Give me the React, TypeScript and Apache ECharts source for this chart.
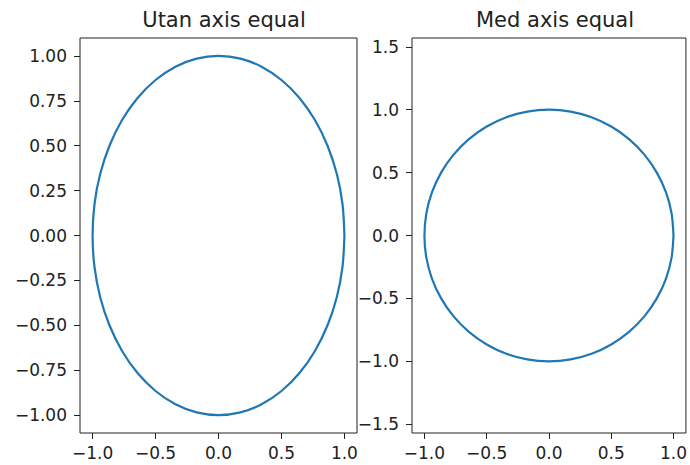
import React, { useEffect, useRef } from "react";
import * as echarts from "echarts";

const titles = ["Utan axis equal", "Med axis equal"];

// Points of the plotted circle (x, y)
const circleX = [1.0, 0.985, 0.94, 0.866, 0.766, 0.643, 0.5, 0.342, 0.174, 0.0, -0.174, -0.342, -0.5, -0.643, -0.766, -0.866, -0.94, -0.985, -1.0, -0.985, -0.94, -0.866, -0.766, -0.643, -0.5, -0.342, -0.174, 0.0, 0.174, 0.342, 0.5, 0.643, 0.766, 0.866, 0.94, 0.985, 1.0];
const circleY = [0.0, 0.174, 0.342, 0.5, 0.643, 0.766, 0.866, 0.94, 0.985, 1.0, 0.985, 0.94, 0.866, 0.766, 0.643, 0.5, 0.342, 0.174, 0.0, -0.174, -0.342, -0.5, -0.643, -0.766, -0.866, -0.94, -0.985, -1.0, -0.985, -0.94, -0.866, -0.766, -0.643, -0.5, -0.342, -0.174, 0.0];

const xTicks = [-1.0, -0.5, 0.0, 0.5, 1.0];
const leftYTicks = [-1.0, -0.75, -0.5, -0.25, 0.0, 0.25, 0.5, 0.75, 1.0];
const rightYTicks = [-1.5, -1.0, -0.5, 0.0, 0.5, 1.0, 1.5];

const leftRange = { xMin: -1.1, xMax: 1.1, yMin: -1.1, yMax: 1.1 };
const rightRange = { xMin: -1.1, xMax: 1.1, yMin: -1.57, yMax: 1.57 };

const fmt = (v: number, d: number) => {
  const s = Math.abs(v).toFixed(d);
  return v < -1e-9 ? "\u2212" + s : s;
};

export default function App() {
  const ref = useRef<HTMLDivElement>(null);
  useEffect(() => {
    if (!ref.current) return;
    const chart = echarts.init(ref.current, undefined, { renderer: "svg" });
    const data = circleX.map((x, i) => [x, circleY[i]]);
    const font = "DejaVu Sans";
    const labelStyle = { color: "#222", fontFamily: font, fontSize: 17 };
    const tickStyle = { color: "#222", width: 1 };
    const mkX = (idx: number, r: any) => ({
      type: "value",
      gridIndex: idx,
      position: "bottom",
      min: r.xMin,
      max: r.xMax,
      splitLine: { show: false },
      axisLine: { show: false, onZero: false },
      axisTick: { show: true, inside: false, length: 6, customValues: xTicks, lineStyle: tickStyle },
      axisLabel: { ...labelStyle, margin: 11, customValues: xTicks, formatter: (v: number) => fmt(v, 1) },
    });
    const mkY = (idx: number, r: any, ticks: number[], d: number) => ({
      type: "value",
      gridIndex: idx,
      position: "left",
      min: r.yMin,
      max: r.yMax,
      splitLine: { show: false },
      axisLine: { show: false, onZero: false },
      axisTick: { show: true, inside: false, length: 6, customValues: ticks, lineStyle: tickStyle },
      axisLabel: { ...labelStyle, margin: 13, customValues: ticks, formatter: (v: number) => fmt(v, d) },
    });
    const titleStyle = { fontFamily: font, fontSize: 21, fontWeight: "normal", color: "#222" };
    chart.setOption({
      animation: false,
      backgroundColor: "#fff",
      title: [
        { text: titles[0], left: 219, top: 4, textAlign: "center", textStyle: titleStyle },
        { text: titles[1], left: 550, top: 4, textAlign: "center", textStyle: titleStyle },
      ],
      grid: [
        { left: 80, top: 38, width: 277, height: 395, show: true, borderColor: "#222", borderWidth: 1, backgroundColor: "transparent", containLabel: false },
        { left: 412, top: 38, width: 277, height: 395, show: true, borderColor: "#222", borderWidth: 1, backgroundColor: "transparent", containLabel: false },
      ],
      xAxis: [mkX(0, leftRange), mkX(1, rightRange)],
      yAxis: [mkY(0, leftRange, leftYTicks, 2), mkY(1, rightRange, rightYTicks, 1)],
      series: [
        { type: "line", xAxisIndex: 0, yAxisIndex: 0, data, showSymbol: false, smooth: 0.3, lineStyle: { color: "#1f77b4", width: 2.2 } },
        { type: "line", xAxisIndex: 1, yAxisIndex: 1, data, showSymbol: false, smooth: 0.3, lineStyle: { color: "#1f77b4", width: 2.2 } },
      ],
    });
    return () => chart.dispose();
  }, []);
  return <div ref={ref} style={{ position: "fixed", left: 0, top: 0, width: 690, height: 465 }} />;
}
